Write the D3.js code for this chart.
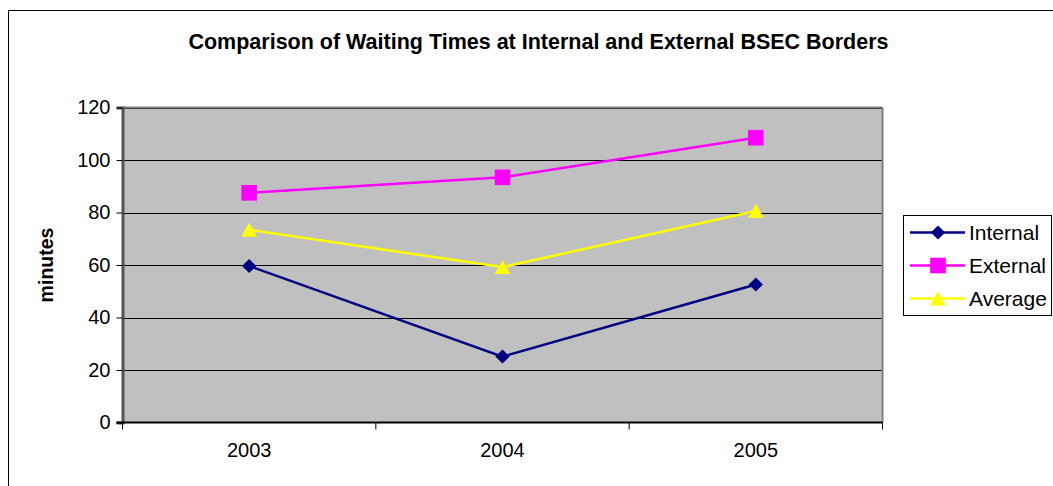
<!DOCTYPE html>
<html><head><meta charset="utf-8">
<script src="https://cdn.jsdelivr.net/npm/d3@7"></script>
<style>body{margin:0;background:#fff}svg{display:block}text{font-family:"Liberation Sans",Arial,sans-serif}</style>
</head><body><svg id="c" width="1053" height="486"></svg>
<script>
const years = ["2003","2004","2005"];
const internal = [59.6, 25.1, 52.6];
const external = [87.5, 93.4, 108.5];
const average = [73.4, 59.2, 80.6];
const yTicks = [0,20,40,60,80,100,120];
const seriesNames = ["Internal","External","Average"];
const seriesColors = ["#000080","#FF00FF","#FFFF00"];
const seriesShapes = ["diamond","square","triangle"];
const title = "Comparison of Waiting Times at Internal and External BSEC Borders";
const yTitle = "minutes";

const svg = d3.select("#c");
svg.append("rect").attr("x",8.5).attr("y",10.5).attr("width",1100).attr("height",600)
  .attr("fill","#fff").attr("stroke","#000").attr("stroke-width",1);

const L=122.5, R=882.5, T=107.5, B=422.5;
const x = d3.scaleBand().domain(years).range([L,R]);
const y = d3.scaleLinear().domain([0,120]).range([B,T]);

svg.append("rect").attr("x",L).attr("y",T).attr("width",R-L).attr("height",B-T).attr("fill","#C0C0C0");
svg.append("g").selectAll("line").data(yTicks.filter(d=>d>0)).join("line")
  .attr("x1",L).attr("x2",R).attr("y1",d=>Math.round(y(d))+0.5).attr("y2",d=>Math.round(y(d))+0.5)
  .attr("stroke","#000").attr("stroke-width",1);
svg.append("line").attr("x1",L).attr("x2",R).attr("y1",T).attr("y2",T).attr("stroke","#808080").attr("stroke-width",2);
svg.append("line").attr("x1",R).attr("x2",R).attr("y1",T).attr("y2",B).attr("stroke","#808080").attr("stroke-width",2);

const ya = svg.append("g").attr("transform",`translate(${L},0)`)
  .call(d3.axisLeft(y).tickValues(yTicks).tickSize(6).tickPadding(6));
ya.select(".domain").attr("stroke","#555").attr("stroke-width",3);
ya.selectAll(".tick line").attr("stroke","#000");
ya.selectAll("text").attr("font-size",20).attr("fill","#000").attr("font-family","Liberation Sans, Arial, sans-serif");

const xa = svg.append("g").attr("transform",`translate(0,${B})`)
  .call(d3.axisBottom(x).tickSize(0).tickPadding(20));
xa.select(".domain").remove();
xa.selectAll("text").attr("font-size",20).attr("fill","#000").attr("font-family","Liberation Sans, Arial, sans-serif");
svg.append("line").attr("x1",L-6).attr("x2",R).attr("y1",B).attr("y2",B).attr("stroke","#000").attr("stroke-width",2);
const xt = [...years.map(d=>x(d)), R];
svg.append("g").selectAll("line").data(xt).join("line")
  .attr("x1",d=>d).attr("x2",d=>d).attr("y1",B).attr("y2",B+7).attr("stroke","#000");

function markerPath(shape){
  if(shape==="diamond") return "M0,-7L7.2,0L0,7L-7.2,0Z";
  if(shape==="square") return "M-7.8,-7.8H7.8V7.8H-7.8Z";
  return "M0,-7.2L7.9,7L-7.9,7Z";
}
const data = [internal, external, average];
const line = d3.line().x((d,i)=>x(years[i])+x.bandwidth()/2).y(d=>y(d));
data.forEach((vals,si)=>{
  svg.append("path").attr("d",line(vals)).attr("fill","none")
    .attr("stroke",seriesColors[si]).attr("stroke-width",2.5);
  svg.append("g").selectAll("path").data(vals).join("path")
    .attr("transform",(d,i)=>`translate(${x(years[i])+x.bandwidth()/2},${y(d)})`)
    .attr("d",markerPath(seriesShapes[si])).attr("fill",seriesColors[si]);
});

svg.append("text").attr("x",538.5).attr("y",49).attr("text-anchor","middle")
  .attr("font-size",21.5).attr("font-weight","bold").text(title);
svg.append("text").attr("transform","translate(53,265) rotate(-90)").attr("text-anchor","middle")
  .attr("font-size",19.5).attr("font-weight","bold").text(yTitle);

const lg = svg.append("g");
lg.append("rect").attr("x",903.5).attr("y",215.5).attr("width",148).attr("height",100)
  .attr("fill","#fff").attr("stroke","#000").attr("stroke-width",1);
seriesNames.forEach((n,i)=>{
  const cy = 232.5 + i*33;
  lg.append("line").attr("x1",910).attr("x2",965).attr("y1",cy).attr("y2",cy)
    .attr("stroke",seriesColors[i]).attr("stroke-width",2.5);
  lg.append("path").attr("transform",`translate(938,${cy})`).attr("d",markerPath(seriesShapes[i])).attr("fill",seriesColors[i]);
  lg.append("text").attr("x",969).attr("y",cy+7.5).attr("font-size",21).text(n);
});
</script></body></html>
